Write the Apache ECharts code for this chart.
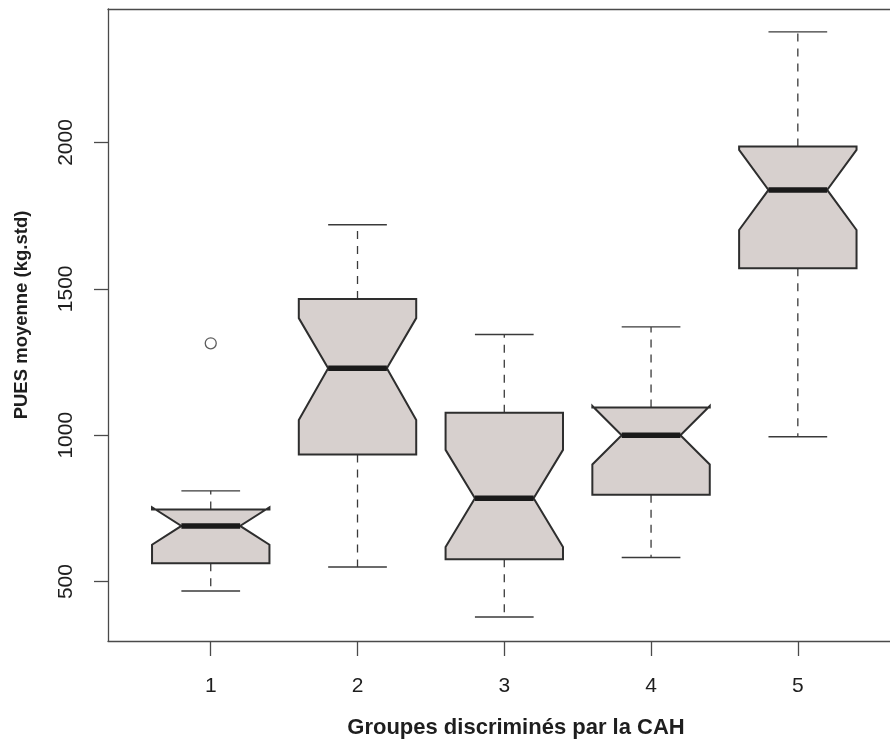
<!DOCTYPE html>
<html>
<head>
<meta charset="utf-8">
<script src="https://cdn.jsdelivr.net/npm/echarts@6/dist/echarts.min.js"></script>
<style>
  html, body { margin: 0; padding: 0; background: #ffffff; }
  #chart { width: 890px; height: 747px; }
</style>
</head>
<body>
<div id="chart"></div>
<script>
// Groups from the hierarchical clustering (CAH)
const groups = [1, 2, 3, 4, 5];
const groupLabels = ['1', '2', '3', '4', '5'];

// Five-number summaries per group (kg.std)
const whiskerLow  = [468, 550, 379, 582, 995];
const q1          = [563, 934, 576, 797, 1570];
const median      = [690, 1229, 785, 1000, 1838];
const q3          = [746, 1465, 1077, 1095, 1986];
const whiskerHigh = [810, 1719, 1344, 1370, 2378];

// Notch bounds around the median
const notchLow  = [626, 1052, 618, 900, 1701];
const notchHigh = [754, 1400, 950, 1100, 1975];

// Points beyond the whiskers
const outlierGroup = [1];
const outlierValue = [1314];

const yTicks = [500, 1000, 1500, 2000];
const xTitle = 'Groupes discriminés par la CAH';
const yTitle = 'PUES moyenne (kg.std)';

const FONT = '"Liberation Sans", Arial, Helvetica, sans-serif';
const INK = '#1e1e1e';
const FRAME = '#4a4a4a';
const BOX_FILL = '#d7d0ce';
const BOX_EDGE = '#2e2e2e';

const boxData = groups.map((g, i) => [
  g, whiskerLow[i], q1[i], median[i], q3[i], whiskerHigh[i], notchLow[i], notchHigh[i]
]);
const outlierData = outlierGroup.map((g, i) => [g, outlierValue[i]]);

// Notched box: half-width 0.4 units, notch waist and staples at half of that
function renderNotchedBox(params, api) {
  const x = api.value(0);
  const lw = api.value(1), lo = api.value(2), med = api.value(3),
        hi = api.value(4), uw = api.value(5), nl = api.value(6), nh = api.value(7);
  const half = 0.4, waist = 0.2, staple = 0.2;
  const P = (dx, v) => api.coord([x + dx, v]);

  const whiskerStyle = { stroke: '#3a3a3a', lineWidth: 1.3, lineDash: [8, 7], fill: null };
  const stapleStyle = { stroke: '#3a3a3a', lineWidth: 1.4, fill: null };

  const line = (a, b, style) => ({
    type: 'line',
    shape: { x1: a[0], y1: a[1], x2: b[0], y2: b[1] },
    style: style
  });

  const poly = [
    P(-half, lo), P(-half, nl), P(-waist, med), P(-half, nh), P(-half, hi),
    P(half, hi), P(half, nh), P(waist, med), P(half, nl), P(half, lo)
  ];

  return {
    type: 'group',
    children: [
      line(P(0, hi), P(0, uw), whiskerStyle),
      line(P(0, lo), P(0, lw), whiskerStyle),
      line(P(-staple, uw), P(staple, uw), stapleStyle),
      line(P(-staple, lw), P(staple, lw), stapleStyle),
      {
        type: 'polygon',
        shape: { points: poly },
        style: { fill: BOX_FILL, stroke: BOX_EDGE, lineWidth: 2, lineJoin: 'miter' }
      },
      line(P(-waist, med), P(waist, med), { stroke: '#1a1a1a', lineWidth: 5.5, lineCap: 'butt' })
    ]
  };
}

const chart = echarts.init(document.getElementById('chart'), null, { renderer: 'canvas' });

// The frame runs past the right edge of the canvas, so only left, bottom and top lines show
const X_MIN = 0.3, X_MAX = 5.628;

chart.setOption({
  backgroundColor: '#ffffff',
  animation: false,
  grid: {
    left: 108, top: 9, right: 0, bottom: 106,
    show: false
  },
  xAxis: [
    {
      type: 'value',
      min: X_MIN,
      max: X_MAX,
      position: 'bottom',
      splitLine: { show: false },
      axisLine: { show: true, onZero: false, lineStyle: { color: FRAME, width: 1.3 } },
      axisTick: {
        show: true, inside: false, length: 15,
        customValues: groups,
        lineStyle: { color: FRAME, width: 1.3 }
      },
      axisLabel: {
        show: true,
        customValues: groups,
        formatter: v => groupLabels[groups.indexOf(v)],
        margin: 35,
        fontSize: 21,
        fontFamily: FONT,
        color: INK
      }
    },
    {
      type: 'value',
      min: X_MIN,
      max: X_MAX,
      position: 'top',
      splitLine: { show: false },
      axisLine: { show: true, onZero: false, lineStyle: { color: FRAME, width: 1.3 } },
      axisTick: { show: false },
      axisLabel: { show: false }
    }
  ],
  yAxis: {
    type: 'value',
    min: 297,
    max: 2456,
    splitLine: { show: false },
    axisLine: { show: true, onZero: false, lineStyle: { color: FRAME, width: 1.3 } },
    axisTick: {
      show: true, inside: false, length: 14,
      customValues: yTicks,
      lineStyle: { color: FRAME, width: 1.3 }
    },
    axisLabel: {
      show: true,
      customValues: yTicks,
      formatter: v => String(v),
      rotate: 90,
      margin: 31,
      fontSize: 21,
      fontFamily: FONT,
      color: INK
    }
  },
  graphic: [
    {
      type: 'text',
      x: 516, y: 728,
      style: {
        text: xTitle,
        fontSize: 22, fontWeight: 'bold', fontFamily: FONT,
        fill: INK, align: 'center', verticalAlign: 'middle'
      }
    },
    {
      type: 'text',
      x: 22, y: 315,
      rotation: Math.PI / 2,
      style: {
        text: yTitle,
        fontSize: 18.5, fontWeight: 'bold', fontFamily: FONT,
        fill: INK, align: 'center', verticalAlign: 'middle'
      }
    }
  ],
  series: [
    {
      type: 'custom',
      renderItem: renderNotchedBox,
      data: boxData,
      encode: { x: 0, y: [1, 2, 3, 4, 5] },
      clip: false
    },
    {
      type: 'scatter',
      data: outlierData,
      symbol: 'circle',
      symbolSize: 11,
      itemStyle: { color: '#ffffff', borderColor: '#333333', borderWidth: 1.3 },
      z: 3
    }
  ]
});
</script>
</body>
</html>
